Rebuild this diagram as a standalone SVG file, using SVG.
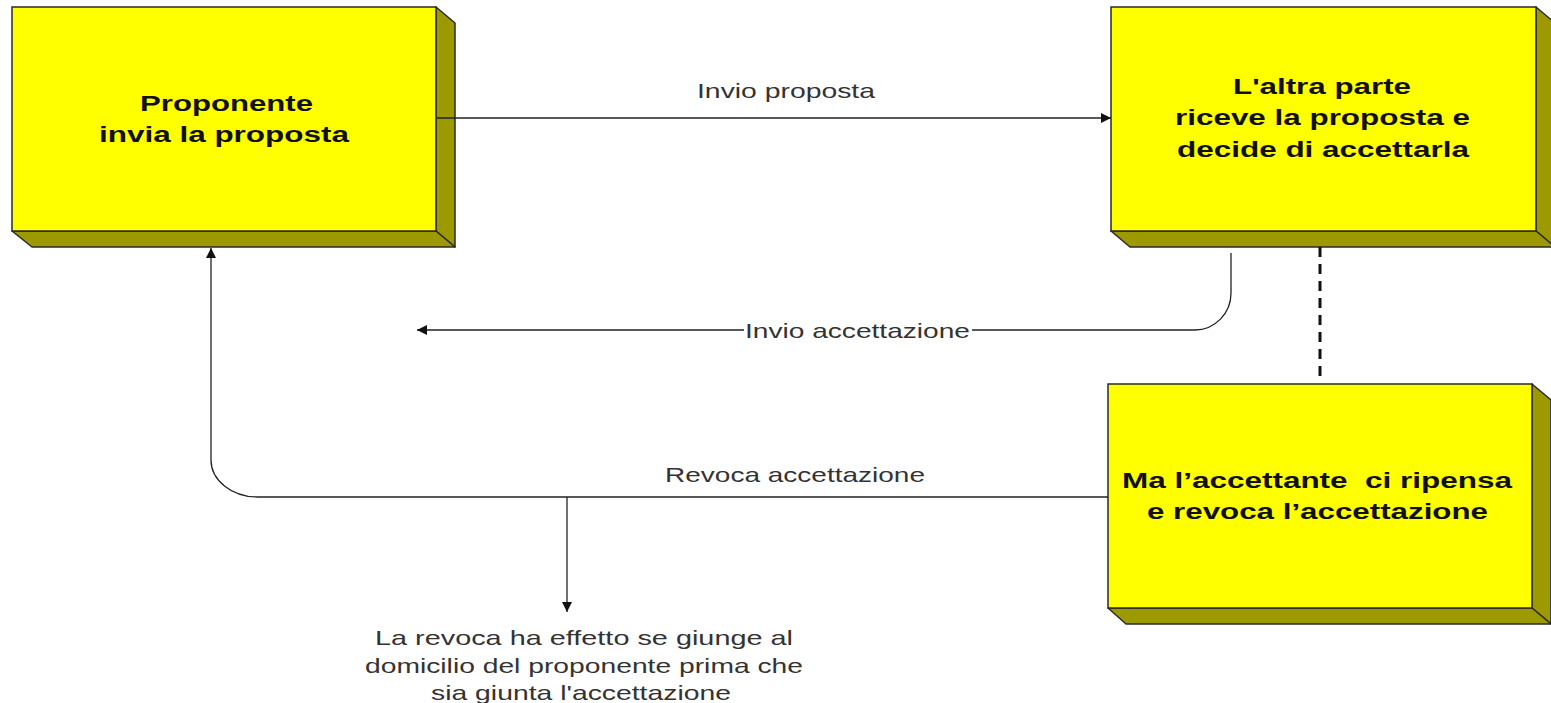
<svg xmlns="http://www.w3.org/2000/svg" width="1551" height="703" viewBox="0 0 1551 703">
<style>
.front{fill:#ffff00;stroke:#2a2a2a;stroke-width:1.5}
.depth{fill:#9c9a00;stroke:#2a2a2a;stroke-width:1.5;stroke-linejoin:round}
.bt{font-family:"Liberation Sans",Arial,sans-serif;font-weight:bold;font-size:22px;fill:#111;white-space:pre}
.lbl{font-family:"Liberation Sans",Arial,sans-serif;font-size:21px;fill:#333}
.con{fill:none;stroke:#222;stroke-width:1.3}
.dash{fill:none;stroke:#111;stroke-width:3;stroke-dasharray:10 7}
</style>
<defs>
<marker id="arr" markerUnits="userSpaceOnUse" markerWidth="12" markerHeight="12" refX="10" refY="5" orient="auto">
<path d="M0,0 L10,5 L0,10 Z" fill="#111"/>
</marker>
</defs>
<rect width="1551" height="703" fill="#ffffff"/>

<g id="node-proponente">
<polygon class="depth" points="436,7 455,23 455,247 436,231"/>
<polygon class="depth" points="12,231 436,231 455,247 32,247"/>
<rect class="front" x="12" y="7" width="424" height="224"/>
<text class="bt" x="140" y="111" textLength="173" lengthAdjust="spacingAndGlyphs">Proponente</text>
<text class="bt" x="99" y="142" textLength="250" lengthAdjust="spacingAndGlyphs">invia la proposta</text>
</g>

<g id="node-altra-parte">
<polygon class="depth" points="1536,7 1555,23 1555,247 1536,231"/>
<polygon class="depth" points="1111,231 1536,231 1555,247 1130,247"/>
<rect class="front" x="1111" y="7" width="425" height="224"/>
<text class="bt" x="1233" y="94" textLength="178" lengthAdjust="spacingAndGlyphs">L'altra parte</text>
<text class="bt" x="1175" y="125" textLength="295" lengthAdjust="spacingAndGlyphs">riceve la proposta e</text>
<text class="bt" x="1177" y="157" textLength="292" lengthAdjust="spacingAndGlyphs">decide di accettarla</text>
</g>

<g id="node-revoca">
<polygon class="depth" points="1532,384 1551,400 1551,624 1532,608"/>
<polygon class="depth" points="1108,608 1532,608 1551,624 1126,624"/>
<rect class="front" x="1108" y="384" width="424" height="224"/>
<text class="bt" x="1122" y="488" textLength="390" lengthAdjust="spacingAndGlyphs">Ma l’accettante  ci ripensa</text>
<text class="bt" x="1147" y="519" textLength="341" lengthAdjust="spacingAndGlyphs">e revoca l’accettazione</text>
</g>

<g id="connectors">
<path class="con" d="M437,118 H1111" marker-end="url(#arr)"/>
<text class="lbl" x="697" y="98" textLength="178" lengthAdjust="spacingAndGlyphs">Invio proposta</text>

<path class="con" d="M1231,253 V293 A36,37 0 0 1 1195,330 H417" marker-end="url(#arr)"/>
<rect x="744" y="318" width="228" height="24" fill="#ffffff"/>
<text class="lbl" x="745" y="338" textLength="225" lengthAdjust="spacingAndGlyphs">Invio accettazione</text>

<path class="dash" d="M1320,247 V380"/>

<path class="con" d="M1108,497 H258 A47,37 0 0 1 211,460 V248" marker-end="url(#arr)"/>
<text class="lbl" x="665" y="482" textLength="260" lengthAdjust="spacingAndGlyphs">Revoca accettazione</text>

<path class="con" d="M567,497 V612" marker-end="url(#arr)"/>
</g>

<g id="note">
<text class="lbl" x="375" y="645" textLength="418" lengthAdjust="spacingAndGlyphs">La revoca ha effetto se giunge al</text>
<text class="lbl" x="365" y="673" textLength="438" lengthAdjust="spacingAndGlyphs">domicilio del proponente prima che</text>
<text class="lbl" x="431" y="700" textLength="300" lengthAdjust="spacingAndGlyphs">sia giunta l'accettazione</text>
</g>
</svg>
